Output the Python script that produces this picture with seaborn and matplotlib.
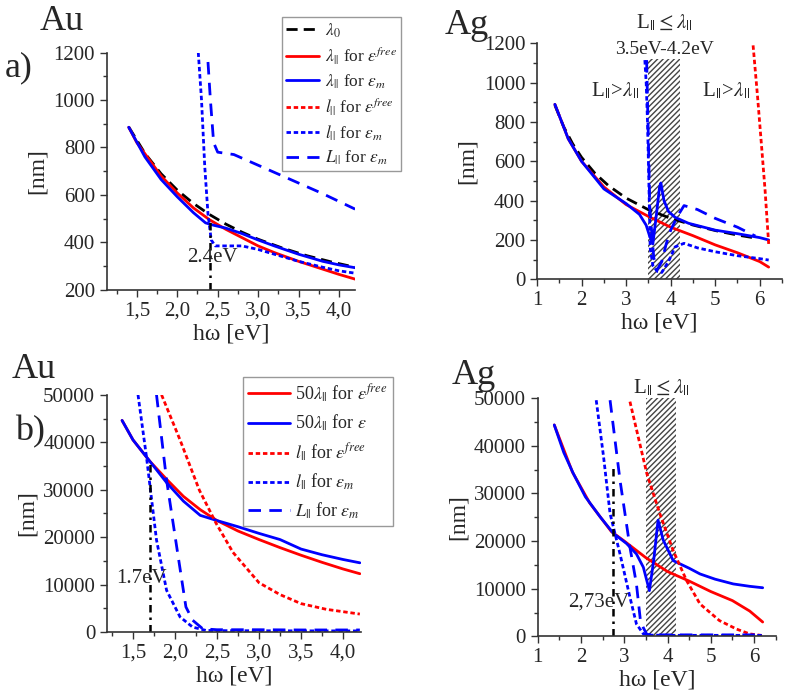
import numpy as np
import pandas as pd
import matplotlib.pyplot as plt
import seaborn as sns
from matplotlib.ticker import MultipleLocator, FuncFormatter

sns.set_style("ticks")
plt.rcParams['font.family'] = ['Liberation Serif', 'DejaVu Serif']
plt.rcParams['mathtext.fontset'] = 'stix'

# ---- Au, panel a) ----
au_a_x0 = [1.4, 1.6, 1.8, 2.0, 2.2, 2.4, 2.6, 2.8, 3.0, 3.3, 3.6, 3.9, 4.2]
au_a_lam0 = [886, 775, 689, 620, 564, 517, 477, 443, 413, 376, 344, 318, 295]
au_a_xf = [1.4, 1.5, 1.8, 2.0, 2.2, 2.4, 2.6, 2.8, 3.0, 3.2, 3.5, 3.8, 4.0, 4.2]
au_a_lam_free = [885, 820, 680, 608, 545, 495, 455, 420, 385, 357, 320, 287, 265, 245]
au_a_xm = [1.4, 1.6, 1.8, 2.0, 2.2, 2.35, 2.45, 2.6, 2.8, 3.0, 3.2, 3.5, 3.8, 4.0, 4.2]
au_a_lam_m = [885, 760, 665, 592, 525, 482, 472, 460, 437, 410, 385, 350, 320, 305, 293]
au_a_xl = [2.26, 2.3, 2.34, 2.38, 2.42, 2.47, 2.6, 2.8, 3.0, 3.25, 3.5, 3.8, 4.0, 4.2]
au_a_l_m = [1200, 1000, 720, 520, 410, 385, 385, 385, 370, 345, 320, 295, 280, 270]
au_a_xL = [2.38, 2.41, 2.45, 2.5, 2.6, 2.7, 2.9, 3.2, 3.5, 3.8, 4.2]
au_a_L_m = [1160, 1000, 820, 780, 775, 770, 740, 695, 650, 605, 540]

# ---- Ag, panel a) ----
ag_a_x0 = [1.4, 1.6, 1.8, 2.0, 2.3, 2.6, 3.0, 3.5, 4.0, 4.5, 5.0, 5.5, 5.85]
ag_a_lam0 = [886, 775, 689, 620, 539, 477, 413, 354, 310, 276, 248, 225, 212]
ag_a_xf = [1.4, 1.7, 2.0, 2.5, 3.0, 3.5, 4.0, 4.5, 5.0, 5.5, 6.0, 6.2]
ag_a_lam_free = [890, 715, 600, 470, 380, 320, 265, 222, 175, 135, 90, 62]
ag_a_xm = [1.4, 1.7, 2.0, 2.5, 3.0, 3.3, 3.45, 3.52, 3.6, 3.68, 3.75, 3.78, 3.85, 3.95, 4.1, 4.4,
           5.0, 5.5, 6.0, 6.2]
ag_a_lam_m = [890, 715, 600, 460, 385, 330, 275, 225, 180, 330, 470, 490, 400, 345, 315, 285,
              250, 232, 212, 200]
ag_a_xlf = [5.85, 5.95, 6.05, 6.12, 6.2]
ag_a_l_free = [1190, 930, 650, 450, 180]
ag_a_xl = [3.42, 3.45, 3.48, 3.51, 3.54, 3.6, 3.7, 3.8, 3.95, 4.1, 4.3, 4.6, 5.0, 5.5, 6.0, 6.2]
ag_a_l_m = [1115, 1000, 800, 500, 160, 70, 40, 35, 90, 165, 183, 160, 140, 120, 105, 98]
ag_a_xL = [3.46, 3.5, 3.53, 3.56, 3.62, 3.7, 3.8, 3.9, 4.0, 4.15, 4.3, 4.6, 5.0, 5.5, 5.9]
ag_a_L_m = [1115, 700, 370, 280, 110, 50, 90, 180, 250, 320, 375, 355, 310, 265, 220]

# ---- Au, panel b) ----
au_b_x = [1.37, 1.5, 1.7, 1.9, 2.1, 2.3, 2.5, 2.75, 3.0, 3.25, 3.5, 3.75, 4.0, 4.2]
au_b_lam_free = [44600, 40500, 36000, 32200, 28600, 25800, 23500, 21300, 19500, 17800, 16200, 14700, 13300, 12300]
au_b_lam_m = [44600, 40500, 36000, 31500, 27600, 24600, 23500, 22200, 20800, 19500, 17500, 16300, 15300, 14600]
au_b_xlf = [1.84, 2.06, 2.29, 2.49, 2.69, 3.0, 3.25, 3.5, 3.8, 4.2]
au_b_l_free = [50000, 40500, 29900, 22900, 16800, 10400, 7900, 6000, 4800, 3800]
au_b_xl = [1.56, 1.66, 1.78, 1.9, 2.06, 2.21, 2.37, 2.6, 3.0, 3.5, 4.0, 4.2]
au_b_l_m = [50000, 37000, 19400, 8800, 3200, 1050, 350, 300, 280, 260, 250, 250]
au_b_xL = [1.78, 1.9, 2.02, 2.13, 2.21, 2.33, 2.5, 3.0, 3.5, 4.0, 4.2]
au_b_L_m = [50000, 32000, 18000, 5300, 2500, 700, 500, 500, 450, 450, 450]

# ---- Ag, panel b) ----
ag_b_x = [1.38, 1.6, 1.82, 2.1, 2.44, 2.75, 3.05, 3.28, 3.44, 3.58, 3.68, 3.78, 3.9, 4.13,
          4.5, 4.75, 5.1, 5.52, 5.9, 6.2]
ag_b_lam_m = [44400, 38600, 34200, 29300, 25100, 21600, 19500, 17300, 14500, 9600, 16000, 24400,
              20200, 15900, 14300, 13100, 12000, 11000, 10500, 10200]
ag_b_xf = [1.38, 1.8, 2.2, 2.7, 3.0, 3.5, 4.0, 4.5, 5.0, 5.5, 5.9, 6.2]
ag_b_lam_free = [44400, 34500, 28000, 22000, 20000, 16500, 13600, 11600, 9400, 7500, 5300, 3000]
ag_b_xlf = [3.13, 3.52, 3.82, 4.13, 4.44, 4.75, 5.2, 5.6, 5.9, 6.2]
ag_b_l_free = [49300, 34200, 25800, 18000, 11700, 6800, 3300, 1500, 500, 150]
ag_b_xl = [2.35, 2.52, 2.67, 2.9, 3.13, 3.28, 3.44, 3.6, 4.0, 5.0, 6.2]
ag_b_l_m = [49600, 37700, 25800, 17300, 8200, 2600, 500, 250, 200, 200, 200]
ag_b_xL = [2.67, 2.9, 3.13, 3.28, 3.37, 3.44, 3.52, 3.7, 4.5, 5.5, 6.2]
ag_b_L_m = [49600, 32800, 18700, 11000, 3500, 1800, 400, 300, 300, 300, 300]

lab_lam0 = r'$\lambda_0$'
lab_free = r'$\lambda_{||}$ for $\varepsilon^{free}$'
lab_m = r'$\lambda_{||}$ for $\varepsilon_m$'
lab_lfree = r'$l_{||}$ for $\varepsilon^{free}$'
lab_lm = r'$l_{||}$ for $\varepsilon_m$'
lab_Lm = r'$L_{||}$ for $\varepsilon_m$'

RED = "#ff0000"
BLUE = "#0000ff"
DASH0 = (4, 2.2)
DOT = (1.6, 1.0)
LDASH = (4.5, 3.0)


def line(ax, x, y, color, dashes=None, label=None, lw=2.0):
    sns.lineplot(x=x, y=y, ax=ax, color=color, lw=lw, label=label, sort=False, estimator=None, legend=False)
    ln = ax.lines[-1]
    if dashes is not None:
        ln.set_dashes(dashes)
    return ln


def style_axes(ax, xlim, ylim, xmaj, xmin, ymaj, ymin, comma=False):
    ax.set_xlim(*xlim)
    ax.set_ylim(*ylim)
    ax.xaxis.set_major_locator(MultipleLocator(xmaj))
    ax.xaxis.set_minor_locator(MultipleLocator(xmin))
    ax.yaxis.set_major_locator(MultipleLocator(ymaj))
    ax.yaxis.set_minor_locator(MultipleLocator(ymin))
    if comma:
        ax.xaxis.set_major_formatter(FuncFormatter(lambda v, p: f"{v:.1f}".replace(".", ",")))
    else:
        ax.xaxis.set_major_formatter(FuncFormatter(lambda v, p: f"{v:.0f}"))
    ax.yaxis.set_major_formatter(FuncFormatter(lambda v, p: f"{v:.0f}"))
    sns.despine(ax=ax)
    ax.tick_params(which='major', direction='out', length=5, width=1, labelsize=15, color='#333')
    ax.tick_params(which='minor', direction='out', length=3, width=1, color='#333')
    for s in ['left', 'bottom']:
        ax.spines[s].set_linewidth(1.2)
        ax.spines[s].set_color('#333')
    ax.set_xlabel('hω [eV]', fontsize=17, labelpad=2)
    ax.set_ylabel('[nm]', fontsize=17)


fig = plt.figure(figsize=(7.98, 7.0), dpi=100)
ax1 = fig.add_axes([0.134, 0.586, 0.311, 0.339])
ax2 = fig.add_axes([0.673, 0.601, 0.307, 0.337])
ax3 = fig.add_axes([0.134, 0.097, 0.318, 0.339])
ax4 = fig.add_axes([0.674, 0.091, 0.298, 0.340])

# panel a) Au
style_axes(ax1, (1.13, 4.2), (200, 1200), 0.5, 0.25, 200, 100, comma=True)
h = []
h.append(line(ax1, au_a_x0, au_a_lam0, 'black', DASH0, lab_lam0))
h.append(line(ax1, au_a_xf, au_a_lam_free, RED, None, lab_free))
h.append(line(ax1, au_a_xm, au_a_lam_m, BLUE, None, lab_m))
h.append(ax1.plot([], [], color=RED, lw=2.0, dashes=DOT, label=lab_lfree)[0])
h.append(line(ax1, au_a_xl, au_a_l_m, BLUE, DOT, lab_lm))
h.append(line(ax1, au_a_xL, au_a_L_m, BLUE, LDASH, lab_Lm))
ax1.plot([2.4, 2.4], [200, 490], color='black', lw=1.8, dashes=(3, 2, 1, 2))
ax1.text(2.43, 335, '2.4eV', fontsize=15, ha='center', va='center')
fig.legend(handles=h, labels=[x.get_label() for x in h], loc='upper left',
           bbox_to_anchor=(282 / 798, 1 - 17 / 700), fontsize=12.5, frameon=True, fancybox=False,
           edgecolor='#999', framealpha=1, handlelength=1.9, handletextpad=0.3,
           borderpad=0.25, labelspacing=0.33, borderaxespad=0)

# panel a) Ag
style_axes(ax2, (1, 6.5), (0, 1200), 1, 0.5, 200, 100)
ax2.fill_between([3.5, 4.2], 0, 1120, facecolor='white', edgecolor='#444', hatch='//////', lw=0)
line(ax2, ag_a_x0, ag_a_lam0, 'black', DASH0)
line(ax2, ag_a_xf, ag_a_lam_free, RED)
line(ax2, ag_a_xm, ag_a_lam_m, BLUE)
line(ax2, ag_a_xlf, ag_a_l_free, RED, DOT)
line(ax2, ag_a_xl, ag_a_l_m, BLUE, DOT)
line(ax2, ag_a_xL, ag_a_L_m, BLUE, LDASH)
ax2.text(3.85, 1305, r'L$_{||}$$\leq$$\lambda_{||}$', fontsize=15, ha='center', va='center', clip_on=False)
ax2.text(3.85, 1170, '3.5eV-4.2eV', fontsize=14, ha='center', va='center')
ax2.text(2.75, 960, r'L$_{||}$>$\lambda_{||}$', fontsize=15, ha='center', va='center')
ax2.text(5.25, 960, r'L$_{||}$>$\lambda_{||}$', fontsize=15, ha='center', va='center')

# panel b) Au
style_axes(ax3, (1.19, 4.21), (0, 50000), 0.5, 0.25, 10000, 5000, comma=True)
hb = []
hb.append(line(ax3, au_b_x, au_b_lam_free, RED, None, r'50$\lambda_{||}$ for $\varepsilon^{free}$'))
hb.append(line(ax3, au_b_x, au_b_lam_m, BLUE, None, r'50$\lambda_{||}$ for $\varepsilon$'))
hb.append(line(ax3, au_b_xlf, au_b_l_free, RED, DOT, lab_lfree))
hb.append(line(ax3, au_b_xl, au_b_l_m, BLUE, DOT, lab_lm))
hb.append(line(ax3, au_b_xL, au_b_L_m, BLUE, LDASH, lab_Lm))
ax3.plot([1.7, 1.7], [0, 36000], color='black', lw=1.8, dashes=(3, 2, 1, 2))
ax3.text(1.6, 11300, '1.7eV', fontsize=15, ha='center', va='center')
fig.legend(handles=hb, labels=[x.get_label() for x in hb], loc='upper left',
           bbox_to_anchor=(243 / 798, 1 - 377 / 700), fontsize=13, frameon=True, fancybox=False,
           edgecolor='#999', framealpha=1, handlelength=2.3, handletextpad=0.3,
           borderpad=0.3, labelspacing=0.45, borderaxespad=0)

# panel b) Ag
style_axes(ax4, (1, 6.5), (0, 50000), 1, 0.5, 10000, 5000)
ax4.fill_between([3.5, 4.2], 0, 50000, facecolor='white', edgecolor='#444', hatch='//////', lw=0)
line(ax4, ag_b_xf, ag_b_lam_free, RED)
line(ax4, ag_b_x, ag_b_lam_m, BLUE)
line(ax4, ag_b_xlf, ag_b_l_free, RED, DOT)
line(ax4, ag_b_xl, ag_b_l_m, BLUE, DOT)
line(ax4, ag_b_xL, ag_b_L_m, BLUE, LDASH)
ax4.plot([2.73, 2.73], [0, 36000], color='black', lw=1.8, dashes=(3, 2, 1, 2))
ax4.text(2.4, 7200, '2,73eV', fontsize=15, ha='center', va='center')
ax4.text(3.85, 52200, r'L$_{||}$$\leq$$\lambda_{||}$', fontsize=15, ha='center', va='center', clip_on=False)

# panel captions
fig.text(40 / 798, 1 - 22 / 700, 'Au', fontsize=26, ha='left', va='center')
fig.text(5 / 798, 1 - 68 / 700, 'a)', fontsize=26, ha='left', va='center')
fig.text(445 / 798, 1 - 25 / 700, 'Ag', fontsize=26, ha='left', va='center')
fig.text(12 / 798, 1 - 370 / 700, 'Au', fontsize=26, ha='left', va='center')
fig.text(15 / 798, 1 - 432 / 700, 'b)', fontsize=26, ha='left', va='center')
fig.text(452 / 798, 1 - 375 / 700, 'Ag', fontsize=26, ha='left', va='center')

fig.savefig('out.png', dpi=100, facecolor='white')
